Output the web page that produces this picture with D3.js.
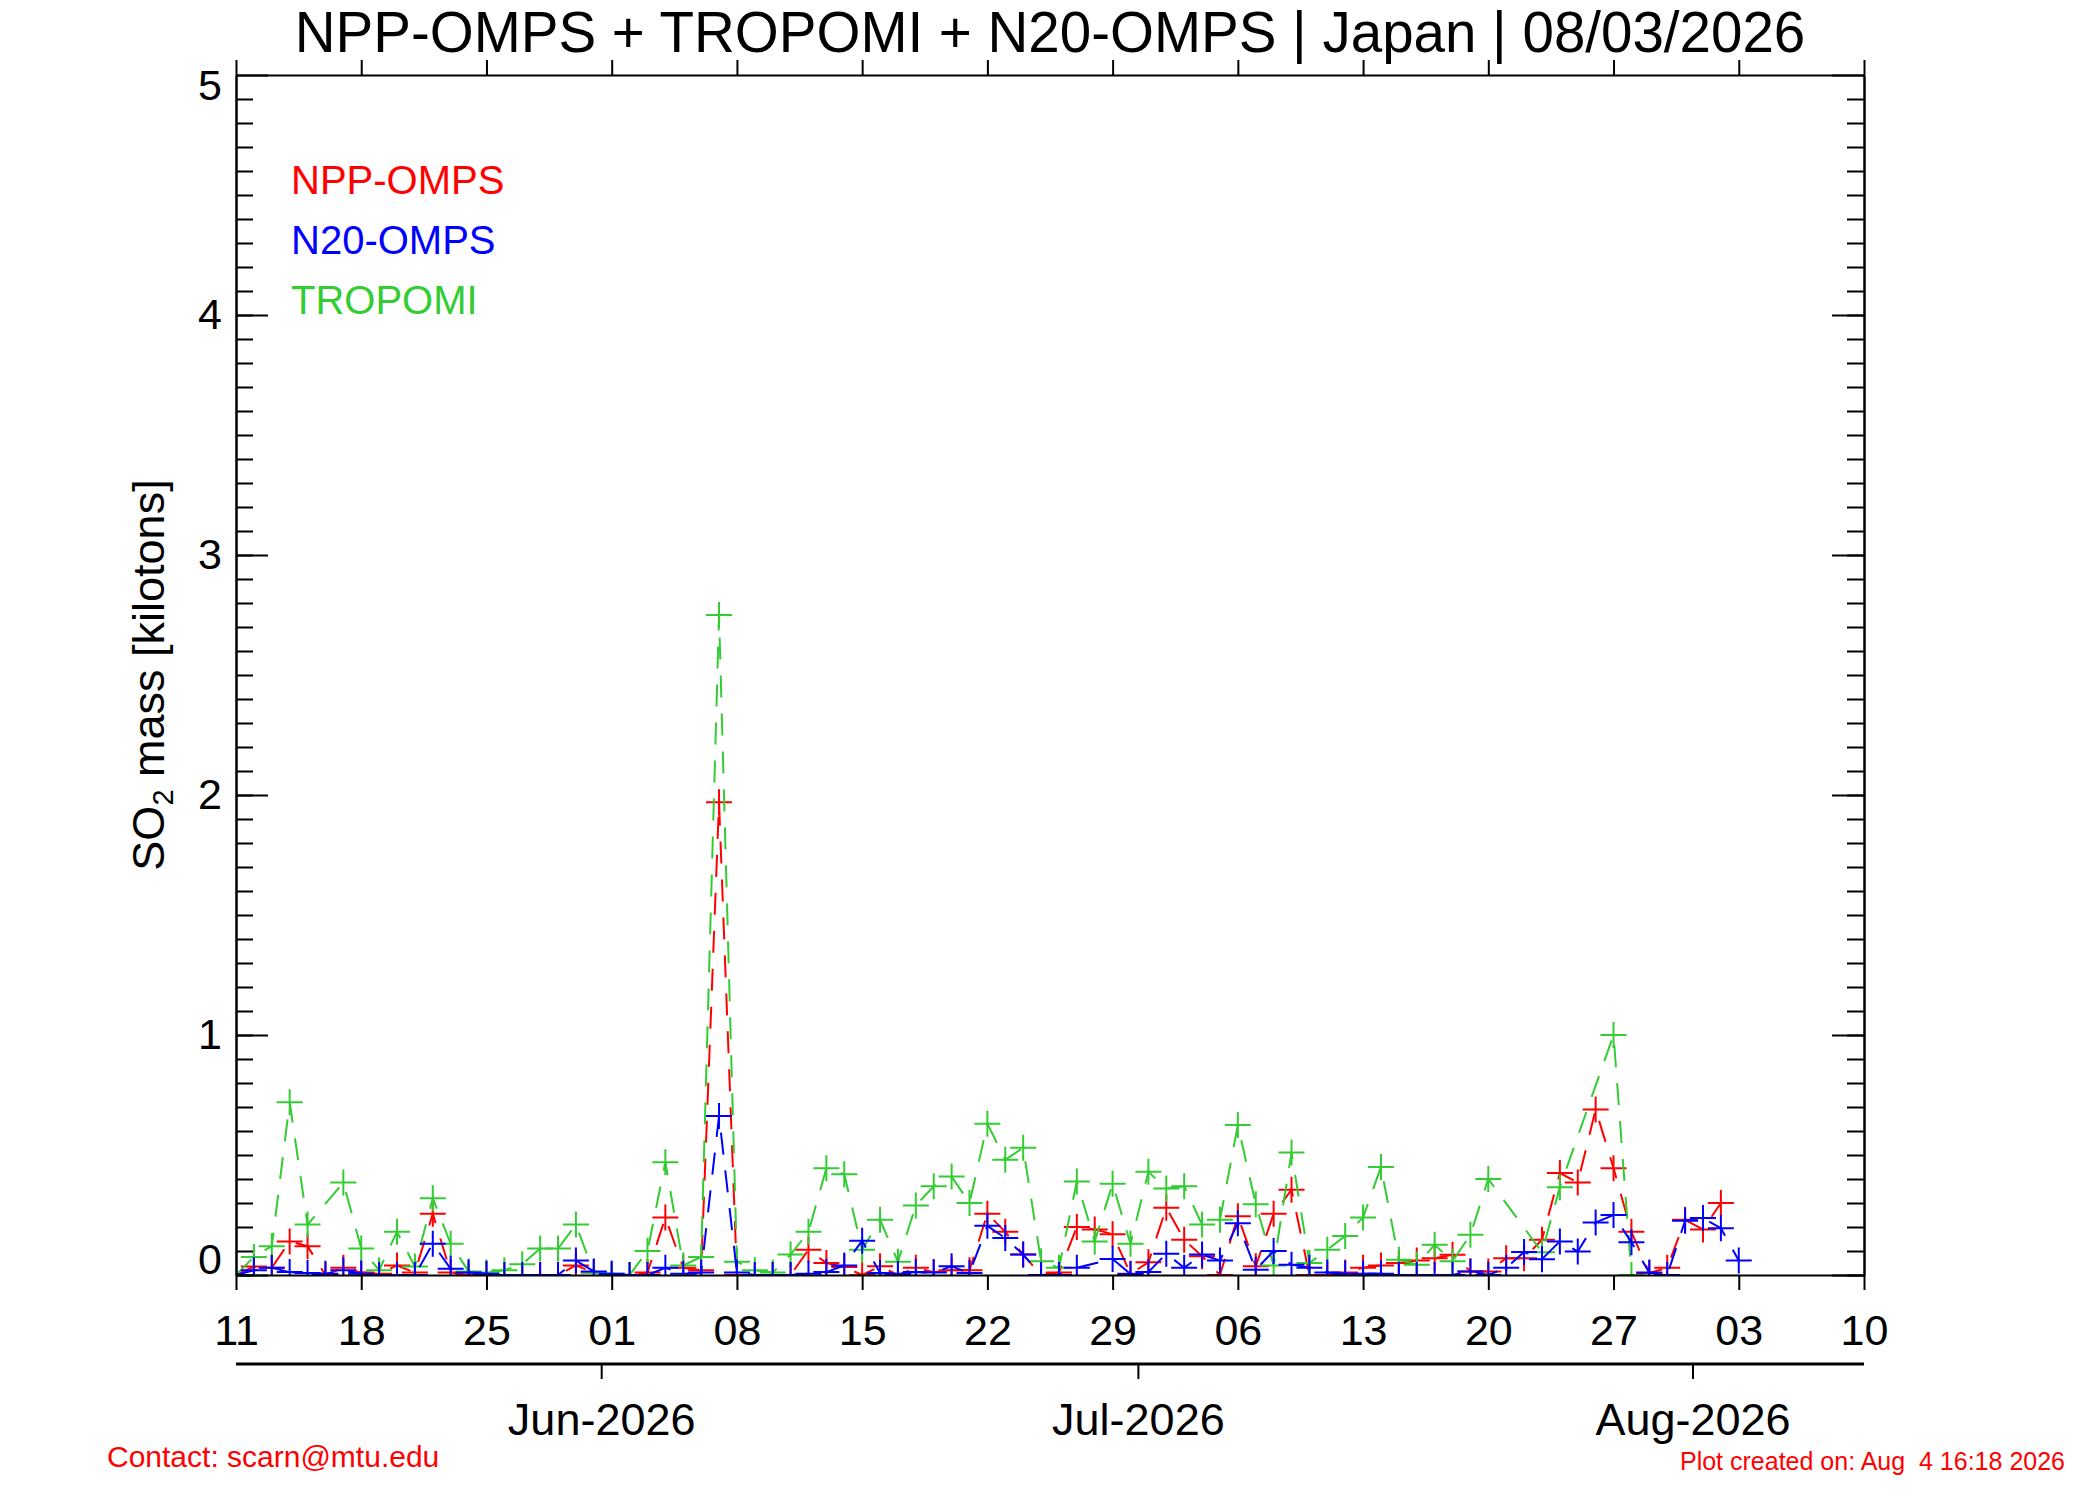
<!DOCTYPE html>
<html lang="en">
<head>
<meta charset="UTF-8">
<title>SO2 mass - Japan</title>
<script src="https://d3js.org/d3.v7.min.js"></script>
<style>
  body { margin: 0; background: #fff; }
  text { font-family: "Liberation Sans", Arial, Helvetica, sans-serif; }
</style>
</head>
<body>
<svg id="main" width="2100" height="1500" viewBox="0 0 2100 1500"></svg>
<script>
// daily values, first day 11 May 2026, last 03 Aug 2026 (null = no retrieval that day)
const firstDay = new Date(2026, 4, 11);
const lastDay = new Date(2026, 7, 3);

const nppOmps = [
  0.0, 0.035, 0.03, 0.14, 0.12, 0.0, 0.03, 0.01, 0.005, 0.04,
  0.01, 0.255, 0.01, 0.0, 0.0, 0.0, 0.0, 0.0, 0.0, 0.04,
  0.01, 0.0, 0.0, 0.01, 0.24, 0.03, 0.02, 1.97, 0.0, 0.0,
  0.0, 0.0, 0.105, 0.05, 0.033, 0.0, 0.036, 0.0, 0.03, 0.012,
  0.02, 0.02, 0.255, 0.18, 0.085, 0.0, 0.01, 0.2, 0.19, 0.17,
  0.005, 0.053, 0.28, 0.147, 0.078, 0.0, 0.245, 0.036, 0.255, 0.355,
  0.0, 0.0, 0.01, 0.03, 0.04, 0.05, 0.06, 0.07, 0.084, 0.015,
  0.015, 0.07, 0.07, 0.147, 0.425, 0.385, 0.69, 0.445, 0.18, 0.008,
  0.03, 0.23, 0.19, 0.30, null
];

const n20Omps = [
  0.0, 0.02, 0.03, 0.012, 0.008, 0.005, 0.02, 0.005, 0.0, 0.0,
  0.0, 0.13, 0.026, 0.01, 0.005, 0.0, 0.0, 0.0, 0.0, 0.06,
  0.015, 0.005, 0.0, 0.0, 0.03, 0.005, 0.01, 0.663, 0.01, 0.0,
  0.0, 0.0, 0.005, 0.012, 0.04, 0.143, 0.008, 0.005, 0.012, 0.01,
  0.036, 0.008, 0.205, 0.154, 0.085, 0.0, 0.0, 0.03, null, 0.067,
  0.004, 0.012, 0.089, 0.03, 0.085, 0.06, 0.216, 0.022, 0.1, 0.043,
  0.03, 0.01, 0.005, 0.005, 0.005, 0.0, 0.0, 0.0, 0.0, 0.015,
  0.0, 0.03, 0.096, 0.066, 0.14, 0.098, 0.219, 0.25, 0.136, 0.01,
  0.0, 0.226, 0.237, 0.195, 0.06
];

const tropomi = [
  0.0, 0.075, 0.12, 0.72, 0.21, null, 0.385, 0.11, 0.02, 0.18,
  0.035, 0.32, 0.13, 0.015, 0.01, 0.02, 0.045, 0.11, 0.11, 0.21,
  0.01, 0.005, 0.0, 0.1, 0.47, 0.04, 0.075, 2.75, 0.055, 0.02,
  0.01, 0.085, 0.18, 0.445, 0.42, 0.105, 0.23, 0.055, 0.29, 0.37,
  0.41, 0.3, 0.63, 0.48, 0.53, 0.057, 0.03, 0.39, 0.14, 0.38,
  0.13, 0.43, 0.36, 0.37, 0.21, 0.23, 0.625, 0.295, 0.04, 0.51,
  0.05, 0.105, 0.163, 0.24, 0.45, 0.064, 0.043, 0.126, 0.057, 0.168,
  0.4, null, null, 0.095, 0.366, null, null, 1.0, 0.0, null,
  null, null, null, null, null
];

const yTicks = [0, 1, 2, 3, 4, 5];

const series = [
  {name: "NPP-OMPS", color: "#ff0000", values: nppOmps},
  {name: "TROPOMI", color: "#33cc33", values: tropomi},
  {name: "N20-OMPS", color: "#0000ff", values: n20Omps}
];
const legendOrder = ["NPP-OMPS", "N20-OMPS", "TROPOMI"];

const dates = d3.timeDay.range(firstDay, d3.timeDay.offset(lastDay, 1));

const plotL = 236, plotR = 1864, plotT = 75, plotB = 1275;
const xStart = new Date(2026, 4, 11), xEnd = new Date(2026, 7, 10);

const x = d3.scaleTime().domain([xStart, xEnd]).range([plotL, plotR]);
const y = d3.scaleLinear().domain([0, 5]).range([plotB, plotT]);

const svg = d3.select("#main");
svg.append("rect").attr("width", 2100).attr("height", 1500).attr("fill", "#fff");

svg.append("defs").append("clipPath").attr("id", "plotclip")
  .append("rect").attr("x", plotL).attr("y", plotT)
  .attr("width", plotR - plotL).attr("height", plotB - plotT);

// title
svg.append("text")
  .attr("x", 1050).attr("y", 52)
  .attr("text-anchor", "middle")
  .attr("font-size", 56.5)
  .text("NPP-OMPS + TROPOMI + N20-OMPS | Japan | 08/03/2026");

// data
const plot = svg.append("g").attr("clip-path", "url(#plotclip)");
const line = d3.line().x(p => x(p.date)).y(p => y(p.v));

series.forEach(s => {
  const pts = dates.map((d, i) => ({date: d, v: s.values[i]})).filter(p => p.v !== null);
  const g = plot.append("g");
  g.append("path")
    .attr("d", line(pts))
    .attr("fill", "none")
    .attr("stroke", s.color)
    .attr("stroke-width", 2)
    .attr("stroke-dasharray", "22,16");
  g.selectAll(".mk")
    .data(pts)
    .join("path")
    .attr("class", "mk")
    .attr("transform", p => `translate(${x(p.date)},${y(p.v)})`)
    .attr("d", "M-13,0H13M0,-13V13")
    .attr("stroke", s.color)
    .attr("stroke-width", 2)
    .attr("fill", "none");
});

// axes
const weeks = d3.timeDay.range(xStart, d3.timeDay.offset(xEnd, 1), 7);
const minorY = d3.range(0, 50).map(i => i / 10);

function styleAxis(g) {
  g.selectAll("path, line").attr("stroke", "#000").attr("stroke-width", 2);
  g.selectAll("text").attr("font-size", 43).attr("fill", "#000")
    .attr("font-family", "Liberation Sans, Arial, Helvetica, sans-serif");
}

const xb = svg.append("g").attr("transform", `translate(0,${plotB})`)
  .call(d3.axisBottom(x).tickValues(weeks).tickSize(15).tickSizeOuter(0)
    .tickPadding(0).tickFormat(d3.timeFormat("%d")))
  .call(styleAxis);
xb.selectAll("text").attr("dy", null).attr("y", 70);

svg.append("g").attr("transform", `translate(0,${plotT})`)
  .call(d3.axisTop(x).tickValues(weeks).tickSize(15).tickSizeOuter(0).tickFormat(""))
  .call(styleAxis);

const yl = svg.append("g").attr("transform", `translate(${plotL},0)`)
  .call(d3.axisLeft(y).tickValues(yTicks).tickSize(-32).tickSizeOuter(0)
    .tickPadding(14).tickFormat(d3.format("d")))
  .call(styleAxis);
// end labels are pulled inside the axis range
yl.selectAll(".tick text").attr("transform", d => d === 0 ? "translate(0,-15)" : d === 5 ? "translate(0,11)" : null);

svg.append("g").attr("transform", `translate(${plotL},0)`)
  .call(d3.axisLeft(y).tickValues(minorY).tickSize(-17).tickSizeOuter(0).tickFormat(""))
  .call(styleAxis);

svg.append("g").attr("transform", `translate(${plotR},0)`)
  .call(d3.axisRight(y).tickValues(yTicks).tickSize(-32).tickSizeOuter(0).tickFormat(""))
  .call(styleAxis);
svg.append("g").attr("transform", `translate(${plotR},0)`)
  .call(d3.axisRight(y).tickValues(minorY).tickSize(-17).tickSizeOuter(0).tickFormat(""))
  .call(styleAxis);

// month axis below
const monthY = 1364;
const months = d3.timeMonth.range(xStart, xEnd);
svg.append("line").attr("x1", plotL).attr("x2", plotR)
  .attr("y1", monthY).attr("y2", monthY)
  .attr("stroke", "#000").attr("stroke-width", 3);
// the original puts month marks about half a day before the 1st
const mg = svg.append("g").selectAll("g").data(months).join("g")
  .attr("transform", m => `translate(${x(m) - 10},${monthY})`);
mg.append("line").attr("y2", 15).attr("stroke", "#000").attr("stroke-width", 2);
mg.append("text").attr("y", 71).attr("text-anchor", "middle")
  .attr("font-size", 45).text(d3.timeFormat("%b-%Y"));

// y label
const yLab = svg.append("text")
  .attr("transform", `translate(164,${(plotT + plotB) / 2}) rotate(-90)`)
  .attr("text-anchor", "middle")
  .attr("font-size", 45);
yLab.append("tspan").text("SO");
yLab.append("tspan").attr("font-size", 29).attr("dy", 9).text("2");
yLab.append("tspan").attr("dy", -9).text(" mass [kilotons]");

// legend
legendOrder.forEach((n, i) => {
  const s = series.find(d => d.name === n);
  svg.append("text").attr("x", 291).attr("y", 194 + i * 60)
    .attr("font-size", 40).attr("fill", s.color).text(n);
});

// footer
svg.append("text").attr("x", 107).attr("y", 1467)
  .attr("font-size", 30).attr("fill", "#ff0000").text("Contact: scarn@mtu.edu");
svg.append("text").attr("x", 2065).attr("y", 1470)
  .attr("text-anchor", "end").attr("font-size", 25).attr("fill", "#ff0000")
  .style("white-space", "pre")
  .text("Plot created on: Aug  4 16:18 2026");
</script>
</body>
</html>
